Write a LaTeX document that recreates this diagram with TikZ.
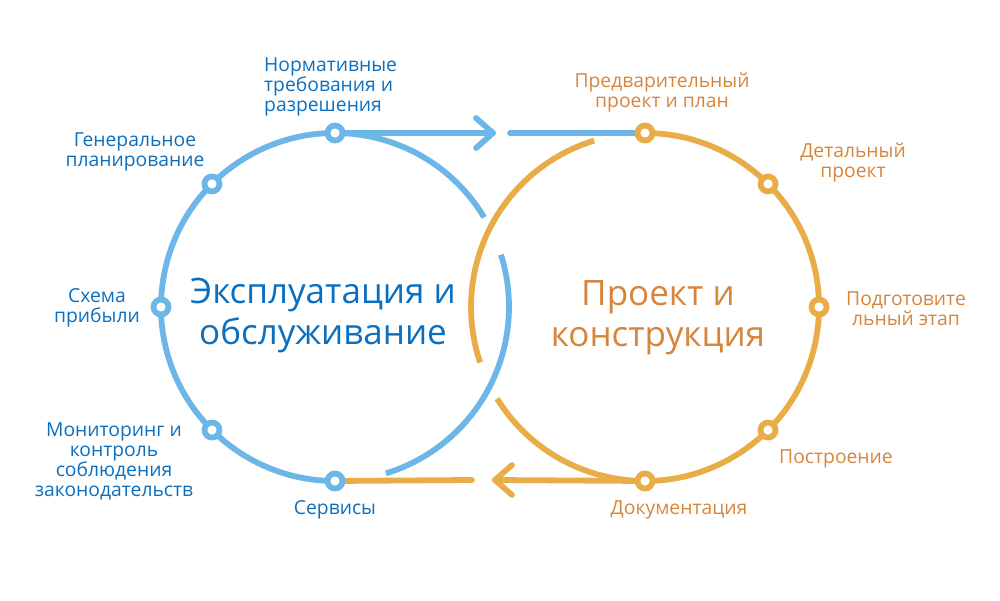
\documentclass[tikz,border=0pt]{standalone}
\usepackage{fontspec}
\setmainfont{Open Sans}
\definecolor{blueline}{HTML}{6DB6E8}
\definecolor{bluetext}{HTML}{0B6FBF}
\definecolor{orangeline}{HTML}{E8AD47}
\definecolor{orangetext}{HTML}{D7853A}
\begin{document}
\begin{tikzpicture}[x=1pt,y=1pt,
  bline/.style={draw=blueline, line width=5.8pt},
  oline/.style={draw=orangeline, line width=5.8pt},
  bdot/.style={circle, draw=blueline, fill=white, line width=5.8pt, minimum size=15pt, inner sep=0pt},
  odot/.style={circle, draw=orangeline, fill=white, line width=5.8pt, minimum size=15pt, inner sep=0pt},
  blab/.style={text=bluetext, font=\fontsize{19.3}{20}\selectfont, align=center, inner sep=0pt},
  olab/.style={text=orangetext, font=\fontsize{19.3}{20}\selectfont, align=center, inner sep=0pt},
  bmain/.style={text=bluetext, font=\fontsize{35}{41}\selectfont, align=center, inner sep=0pt},
  omain/.style={text=orangetext, font=\fontsize{35}{41}\selectfont, align=center, inner sep=0pt},
  chev/.style={line cap=round, line join=round}
]
\useasboundingbox (0,0) rectangle (1000,600);
\coordinate (cl) at (335,293);
\coordinate (cr) at (645,293);
% dot positions
\coordinate (pb90) at ([shift={(90:174)}]cl);
\coordinate (pb135) at ([shift={(135:174)}]cl);
\coordinate (pb180) at ([shift={(180:174)}]cl);
\coordinate (pb225) at ([shift={(225:174)}]cl);
\coordinate (pb270) at ([shift={(270:174)}]cl);
\coordinate (po90) at ([shift={(90:174)}]cr);
\coordinate (po45) at ([shift={(45:174)}]cr);
\coordinate (po0) at ([shift={(0:174)}]cr);
\coordinate (pom45) at ([shift={(-45:174)}]cr);
\coordinate (po270) at ([shift={(270:174)}]cr);
% blue circle arcs
\draw[bline] ([shift={(31:174)}]cl) arc[start angle=31, end angle=270, radius=174];
\draw[bline] ([shift={(17.5:174)}]cl) arc[start angle=17.5, end angle=-73, radius=174];
% orange circle arcs
\draw[oline] ([shift={(107:174)}]cr) arc[start angle=107, end angle=198.6, radius=174];
\draw[oline] ([shift={(211.8:174)}]cr) arc[start angle=211.8, end angle=450, radius=174];
% top blue arrow
\coordinate (ta) at (493,467);
\coordinate (sa) at (510,467);
\draw[bline, line cap=round] (pb90) -- (ta);
\draw[bline, chev] ([shift={(-17,15)}]ta) -- (ta) -- ([shift={(-17,-15)}]ta);
\draw[bline, line cap=round] (sa) -- (po90);
% bottom orange arrow
\coordinate (tb) at (495,120);
\coordinate (sb) at (472,120);
\draw[oline, line cap=round] (po270) -- (tb);
\draw[oline, chev] ([shift={(17,15)}]tb) -- (tb) -- ([shift={(17,-15)}]tb);
\draw[oline, line cap=round] (sb) -- (pb270);
% dots
\node[bdot] (b90) at (pb90) {};
\node[bdot] (b135) at (pb135) {};
\node[bdot] (b180) at (pb180) {};
\node[bdot] (b225) at (pb225) {};
\node[bdot] (b270) at (pb270) {};
\node[odot] (o90) at (po90) {};
\node[odot] (o45) at (po45) {};
\node[odot] (o0) at (po0) {};
\node[odot] (om45) at (pom45) {};
\node[odot] (o270) at (po270) {};
% labels
\node[blab, anchor=west, align=left] (lnorm) at (264,513) {Нормативные\\требования и\\разрешения};
\node[blab] (lgen) at (135,448) {Генеральное\\планирование};
\node[blab] (lsch) at (97,292) {Схема\\прибыли};
\node[blab] (lmon) at (114,139) {Мониторинг и\\контроль\\соблюдения\\законодательств};
\node[blab] (lserv) at (335,90) {Сервисы};
\node[bmain] (mleft) at (323,284) {Эксплуатация и\\обслуживание};
\node[olab] (lpred) at (662,507) {Предварительный\\проект и план};
\node[olab] (ldet) at (853,437) {Детальный\\проект};
\node[olab] (lpodg) at (906,291) {Подготовите\\льный этап};
\node[omain] (mright) at (658,282) {Проект и\\конструкция};
\node[olab] (lpost) at (836,141) {Построение};
\node[olab] (ldoc) at (679,90) {Документация};
\end{tikzpicture}
\end{document}
